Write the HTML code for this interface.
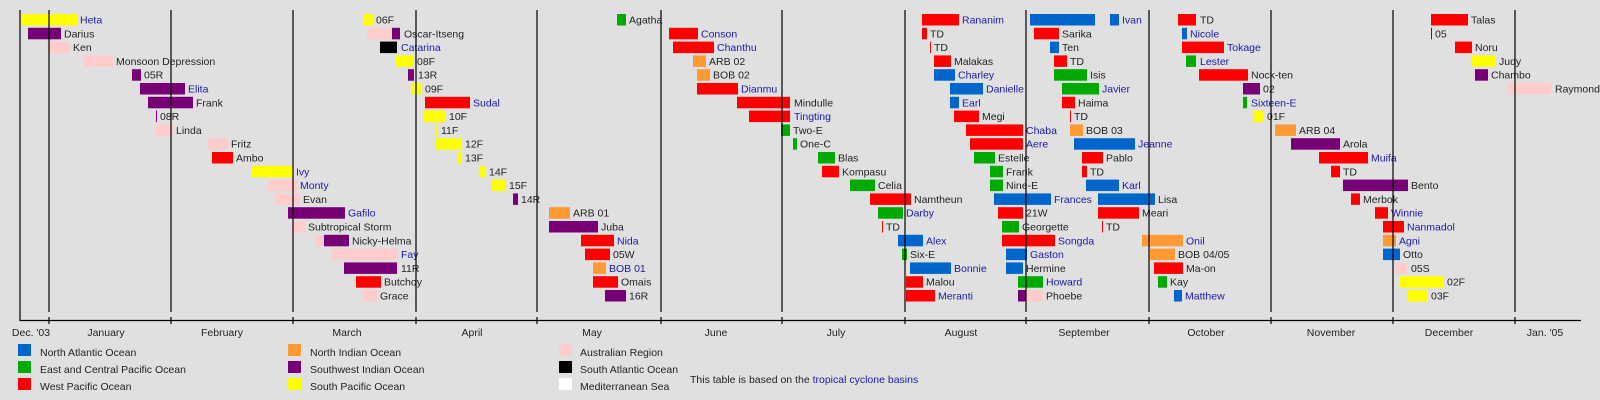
<!DOCTYPE html>
<html><head><meta charset="utf-8"><style>
body{margin:0;background:#e0e0e0}
svg{display:block}
text{font-family:"Liberation Sans",sans-serif;font-size:10.5px;fill:#222}
.b{fill:#1a1aaa}
.R{fill:#ff0000}.U{fill:#0066cc}.G{fill:#00aa00}.O{fill:#ff9933}.P{fill:#770077}.Y{fill:#ffff00}.K{fill:#ffcccc}.X{fill:#000}.W{fill:#fff}
</style></head><body>
<svg width="1600" height="400" viewBox="0 0 1600 400" xmlns="http://www.w3.org/2000/svg">
<rect width="1600" height="400" fill="#e0e0e0"/>
<g>
<!-- row0 -->
<rect class="Y" x="21" y="14" width="56" height="11.5"/><text class="b" x="80" y="23.5">Heta</text>
<rect class="Y" x="364" y="14" width="9" height="11.5"/><text x="376" y="23.5">06F</text>
<rect class="G" x="617" y="14" width="9" height="11.5"/><text x="629" y="23.5">Agatha</text>
<rect class="R" x="922" y="14" width="37" height="11.5"/><text class="b" x="962" y="23.5">Rananim</text>
<rect class="U" x="1030" y="14" width="65" height="11.5"/><rect class="U" x="1110" y="14" width="9" height="11.5"/><text class="b" x="1122" y="23.5">Ivan</text>
<rect class="R" x="1178" y="14" width="18" height="11.5"/><text x="1200" y="23.5">TD</text>
<rect class="R" x="1431" y="14" width="37" height="11.5"/><text x="1471" y="23.5">Talas</text>
<!-- row1 -->
<rect class="P" x="28" y="27.8" width="33" height="11.5"/><text x="64" y="37.3">Darius</text>
<rect class="K" x="367" y="27.8" width="25" height="11.5"/><rect class="P" x="392" y="27.8" width="8" height="11.5"/><text x="404" y="37.3">Oscar-Itseng</text>
<rect class="R" x="669" y="27.8" width="29" height="11.5"/><text class="b" x="701" y="37.3">Conson</text>
<rect class="R" x="922" y="27.8" width="5" height="11.5"/><text x="930" y="37.3">TD</text>
<rect class="R" x="1034" y="27.8" width="25" height="11.5"/><text x="1062" y="37.3">Sarika</text>
<rect class="U" x="1182" y="27.8" width="5" height="11.5"/><text class="b" x="1190" y="37.3">Nicole</text>
<rect class="P" x="1431" y="27.8" width="1" height="11.5"/><text x="1435" y="37.3">05</text>
<!-- row2 -->
<rect class="K" x="47" y="41.6" width="23" height="11.5"/><text x="73" y="51.1">Ken</text>
<rect class="X" x="380" y="41.6" width="17" height="11.5"/><text class="b" x="401" y="51.1">Catarina</text>
<rect class="R" x="673" y="41.6" width="41" height="11.5"/><text class="b" x="717" y="51.1">Chanthu</text>
<rect class="R" x="930" y="41.6" width="1" height="11.5"/><text x="934" y="51.1">TD</text>
<rect class="U" x="1050" y="41.6" width="9" height="11.5"/><text x="1062" y="51.1">Ten</text>
<rect class="R" x="1182" y="41.6" width="42" height="11.5"/><text class="b" x="1227" y="51.1">Tokage</text>
<rect class="R" x="1455" y="41.6" width="17" height="11.5"/><text x="1475" y="51.1">Noru</text>
<!-- row3 -->
<rect class="K" x="84" y="55.4" width="29" height="11.5"/><text x="116" y="64.9">Monsoon Depression</text>
<rect class="Y" x="396" y="55.4" width="17" height="11.5"/><text x="417" y="64.9">08F</text>
<rect class="O" x="693" y="55.4" width="13" height="11.5"/><text x="709" y="64.9">ARB 02</text>
<rect class="R" x="934" y="55.4" width="17" height="11.5"/><text x="954" y="64.9">Malakas</text>
<rect class="R" x="1054" y="55.4" width="13" height="11.5"/><text x="1070" y="64.9">TD</text>
<rect class="G" x="1186" y="55.4" width="10" height="11.5"/><text class="b" x="1200" y="64.9">Lester</text>
<rect class="Y" x="1471" y="55.4" width="25" height="11.5"/><text x="1499" y="64.9">Judy</text>
<!-- row4 -->
<rect class="P" x="132" y="69.2" width="9" height="11.5"/><text x="144" y="78.7">05R</text>
<rect class="P" x="408" y="69.2" width="6" height="11.5"/><text x="418" y="78.7">13R</text>
<rect class="O" x="697" y="69.2" width="13" height="11.5"/><text x="713" y="78.7">BOB 02</text>
<rect class="U" x="934" y="69.2" width="21" height="11.5"/><text class="b" x="958" y="78.7">Charley</text>
<rect class="G" x="1054" y="69.2" width="33" height="11.5"/><text x="1090" y="78.7">Isis</text>
<rect class="R" x="1199" y="69.2" width="49" height="11.5"/><text x="1251" y="78.7">Nock-ten</text>
<rect class="P" x="1475" y="69.2" width="13" height="11.5"/><text x="1491" y="78.7">Chambo</text>
<!-- row5 -->
<rect class="P" x="140" y="83" width="45" height="11.5"/><text class="b" x="188" y="92.5">Elita</text>
<rect class="Y" x="412" y="83" width="10" height="11.5"/><text x="425" y="92.5">09F</text>
<rect class="R" x="697" y="83" width="41" height="11.5"/><text class="b" x="741" y="92.5">Dianmu</text>
<rect class="U" x="950" y="83" width="33" height="11.5"/><text class="b" x="986" y="92.5">Danielle</text>
<rect class="G" x="1062" y="83" width="37" height="11.5"/><text class="b" x="1102" y="92.5">Javier</text>
<rect class="P" x="1243" y="83" width="17" height="11.5"/><text x="1263" y="92.5">02</text>
<rect class="K" x="1508" y="83" width="43" height="11.5"/><text x="1555" y="92.5">Raymond</text>
<!-- row6 -->
<rect class="P" x="148" y="96.8" width="45" height="11.5"/><text x="196" y="106.3">Frank</text>
<rect class="R" x="425" y="96.8" width="45" height="11.5"/><text class="b" x="473" y="106.3">Sudal</text>
<rect class="R" x="737" y="96.8" width="53" height="11.5"/><text x="794" y="106.3">Mindulle</text>
<rect class="U" x="950" y="96.8" width="9" height="11.5"/><text class="b" x="962" y="106.3">Earl</text>
<rect class="R" x="1062" y="96.8" width="13" height="11.5"/><text x="1078" y="106.3">Haima</text>
<rect class="G" x="1243" y="96.8" width="4" height="11.5"/><text class="b" x="1251" y="106.3">Sixteen-E</text>
<!-- row7 -->
<rect class="P" x="156" y="110.6" width="1" height="11.5"/><text x="160" y="120.1">08R</text>
<rect class="Y" x="424" y="110.6" width="22" height="11.5"/><text x="449" y="120.1">10F</text>
<rect class="R" x="749" y="110.6" width="41" height="11.5"/><text class="b" x="794" y="120.1">Tingting</text>
<rect class="R" x="954" y="110.6" width="25" height="11.5"/><text x="982" y="120.1">Megi</text>
<rect class="R" x="1070" y="110.6" width="1" height="11.5"/><text x="1074" y="120.1">TD</text>
<rect class="Y" x="1254" y="110.6" width="9" height="11.5"/><text x="1267" y="120.1">01F</text>
<!-- row8 -->
<rect class="K" x="156" y="124.4" width="17" height="11.5"/><text x="176" y="133.9">Linda</text>
<rect class="Y" x="436" y="124.4" width="2" height="11.5"/><text x="441" y="133.9">11F</text>
<rect class="G" x="781" y="124.4" width="9" height="11.5"/><text x="793" y="133.9">Two-E</text>
<rect class="R" x="966" y="124.4" width="57" height="11.5"/><text class="b" x="1026" y="133.9">Chaba</text>
<rect class="O" x="1070" y="124.4" width="13" height="11.5"/><text x="1086" y="133.9">BOB 03</text>
<rect class="O" x="1275" y="124.4" width="21" height="11.5"/><text x="1299" y="133.9">ARB 04</text>
<!-- row9 -->
<rect class="K" x="208" y="138.2" width="20" height="11.5"/><text x="231" y="147.7">Fritz</text>
<rect class="Y" x="436" y="138.2" width="26" height="11.5"/><text x="465" y="147.7">12F</text>
<rect class="G" x="793" y="138.2" width="4" height="11.5"/><text x="800" y="147.7">One-C</text>
<rect class="R" x="970" y="138.2" width="53" height="11.5"/><text class="b" x="1026" y="147.7">Aere</text>
<rect class="U" x="1074" y="138.2" width="61" height="11.5"/><text class="b" x="1138" y="147.7">Jeanne</text>
<rect class="P" x="1291" y="138.2" width="49" height="11.5"/><text x="1343" y="147.7">Arola</text>
<!-- row10 -->
<rect class="R" x="212" y="152" width="21" height="11.5"/><text x="236" y="161.5">Ambo</text>
<rect class="Y" x="457" y="152" width="5" height="11.5"/><text x="465" y="161.5">13F</text>
<rect class="G" x="818" y="152" width="17" height="11.5"/><text x="838" y="161.5">Blas</text>
<rect class="G" x="974" y="152" width="21" height="11.5"/><text x="998" y="161.5">Estelle</text>
<rect class="R" x="1082" y="152" width="21" height="11.5"/><text x="1106" y="161.5">Pablo</text>
<rect class="R" x="1319" y="152" width="49" height="11.5"/><text class="b" x="1371" y="161.5">Muifa</text>
<!-- row11 -->
<rect class="Y" x="252" y="165.8" width="41" height="11.5"/><text class="b" x="296" y="175.3">Ivy</text>
<rect class="Y" x="480" y="165.8" width="6" height="11.5"/><text x="489" y="175.3">14F</text>
<rect class="R" x="822" y="165.8" width="17" height="11.5"/><text x="842" y="175.3">Kompasu</text>
<rect class="G" x="990" y="165.8" width="13" height="11.5"/><text x="1006" y="175.3">Frank</text>
<rect class="R" x="1082" y="165.8" width="5" height="11.5"/><text x="1090" y="175.3">TD</text>
<rect class="R" x="1331" y="165.8" width="9" height="11.5"/><text x="1343" y="175.3">TD</text>
<!-- row12 -->
<rect class="K" x="268" y="179.6" width="29" height="11.5"/><text class="b" x="300" y="189.1">Monty</text>
<rect class="Y" x="492" y="179.6" width="14" height="11.5"/><text x="509" y="189.1">15F</text>
<rect class="G" x="850" y="179.6" width="25" height="11.5"/><text x="878" y="189.1">Celia</text>
<rect class="G" x="990" y="179.6" width="13" height="11.5"/><text x="1006" y="189.1">Nine-E</text>
<rect class="U" x="1086" y="179.6" width="33" height="11.5"/><text class="b" x="1122" y="189.1">Karl</text>
<rect class="P" x="1343" y="179.6" width="65" height="11.5"/><text x="1411" y="189.1">Bento</text>
<!-- row13 -->
<rect class="K" x="276" y="193.4" width="24" height="11.5"/><text x="303" y="202.9">Evan</text>
<rect class="P" x="513" y="193.4" width="5" height="11.5"/><text x="521" y="202.9">14R</text>
<rect class="R" x="870" y="193.4" width="41" height="11.5"/><text x="914" y="202.9">Namtheun</text>
<rect class="U" x="994" y="193.4" width="57" height="11.5"/><text class="b" x="1054" y="202.9">Frances</text>
<rect class="U" x="1098" y="193.4" width="57" height="11.5"/><text x="1158" y="202.9">Lisa</text>
<rect class="R" x="1351" y="193.4" width="9" height="11.5"/><text x="1363" y="202.9">Merbok</text>
<!-- row14 -->
<rect class="P" x="288" y="207.2" width="57" height="11.5"/><text class="b" x="348" y="216.7">Gafilo</text>
<rect class="O" x="549" y="207.2" width="21" height="11.5"/><text x="573" y="216.7">ARB 01</text>
<rect class="G" x="878" y="207.2" width="25" height="11.5"/><text class="b" x="906" y="216.7">Darby</text>
<rect class="R" x="998" y="207.2" width="25" height="11.5"/><text x="1026" y="216.7">21W</text>
<rect class="R" x="1098" y="207.2" width="41" height="11.5"/><text x="1142" y="216.7">Meari</text>
<rect class="R" x="1375" y="207.2" width="13" height="11.5"/><text class="b" x="1391" y="216.7">Winnie</text>
<!-- row15 -->
<rect class="K" x="292" y="221" width="13" height="11.5"/><text x="308" y="230.5">Subtropical Storm</text>
<rect class="P" x="549" y="221" width="49" height="11.5"/><text x="601" y="230.5">Juba</text>
<rect class="R" x="882" y="221" width="1" height="11.5"/><text x="886" y="230.5">TD</text>
<rect class="G" x="1002" y="221" width="17" height="11.5"/><text x="1022" y="230.5">Georgette</text>
<rect class="R" x="1102" y="221" width="1" height="11.5"/><text x="1106" y="230.5">TD</text>
<rect class="R" x="1383" y="221" width="21" height="11.5"/><text class="b" x="1407" y="230.5">Nanmadol</text>
<!-- row16 -->
<rect class="K" x="316" y="234.8" width="8" height="11.5"/><rect class="P" x="324" y="234.8" width="25" height="11.5"/><text x="352" y="244.3">Nicky-Helma</text>
<rect class="R" x="581" y="234.8" width="33" height="11.5"/><text class="b" x="617" y="244.3">Nida</text>
<rect class="U" x="898" y="234.8" width="25" height="11.5"/><text class="b" x="926" y="244.3">Alex</text>
<rect class="R" x="1002" y="234.8" width="53" height="11.5"/><text class="b" x="1058" y="244.3">Songda</text>
<rect class="O" x="1142" y="234.8" width="41" height="11.5"/><text class="b" x="1186" y="244.3">Onil</text>
<rect class="O" x="1383" y="234.8" width="13" height="11.5"/><text class="b" x="1399" y="244.3">Agni</text>
<!-- row17 -->
<rect class="K" x="332" y="248.6" width="66" height="11.5"/><text class="b" x="401" y="258.1">Fay</text>
<rect class="R" x="585" y="248.6" width="25" height="11.5"/><text x="613" y="258.1">05W</text>
<rect class="G" x="902" y="248.6" width="5" height="11.5"/><text x="910" y="258.1">Six-E</text>
<rect class="U" x="1006" y="248.6" width="21" height="11.5"/><text class="b" x="1030" y="258.1">Gaston</text>
<rect class="O" x="1150" y="248.6" width="25" height="11.5"/><text x="1178" y="258.1">BOB 04/05</text>
<rect class="U" x="1383" y="248.6" width="17" height="11.5"/><text x="1403" y="258.1">Otto</text>
<!-- row18 -->
<rect class="P" x="344" y="262.4" width="53" height="11.5"/><text x="401" y="271.9">11R</text>
<rect class="O" x="593" y="262.4" width="13" height="11.5"/><text class="b" x="609" y="271.9">BOB 01</text>
<rect class="U" x="910" y="262.4" width="41" height="11.5"/><text class="b" x="954" y="271.9">Bonnie</text>
<rect class="U" x="1006" y="262.4" width="17" height="11.5"/><text x="1026" y="271.9">Hermine</text>
<rect class="R" x="1154" y="262.4" width="29" height="11.5"/><text x="1186" y="271.9">Ma-on</text>
<rect class="K" x="1395" y="262.4" width="12" height="11.5"/><text x="1411" y="271.9">05S</text>
<!-- row19 -->
<rect class="R" x="356" y="276.2" width="25" height="11.5"/><text x="384" y="285.7">Butchoy</text>
<rect class="R" x="593" y="276.2" width="25" height="11.5"/><text x="621" y="285.7">Omais</text>
<rect class="R" x="906" y="276.2" width="17" height="11.5"/><text x="926" y="285.7">Malou</text>
<rect class="G" x="1018" y="276.2" width="25" height="11.5"/><text class="b" x="1046" y="285.7">Howard</text>
<rect class="G" x="1158" y="276.2" width="9" height="11.5"/><text x="1170" y="285.7">Kay</text>
<rect class="Y" x="1399" y="276.2" width="45" height="11.5"/><text x="1447" y="285.7">02F</text>
<!-- row20 -->
<rect class="K" x="364" y="290" width="13" height="11.5"/><text x="380" y="299.5">Grace</text>
<rect class="P" x="605" y="290" width="21" height="11.5"/><text x="629" y="299.5">16R</text>
<rect class="R" x="906" y="290" width="29" height="11.5"/><text class="b" x="938" y="299.5">Meranti</text>
<rect class="P" x="1018" y="290" width="8" height="11.5"/><rect class="K" x="1026" y="290" width="17" height="11.5"/><text x="1046" y="299.5">Phoebe</text>
<rect class="U" x="1174" y="290" width="8" height="11.5"/><text class="b" x="1185" y="299.5">Matthew</text>
<rect class="Y" x="1407" y="290" width="21" height="11.5"/><text x="1431" y="299.5">03F</text>
</g>
<g stroke="#000" stroke-width="1.2">
<line x1="20" y1="10" x2="20" y2="321"/>
<line x1="20" y1="320.5" x2="1581" y2="320.5"/>
<line x1="49" y1="10" x2="49" y2="312"/><line x1="171" y1="10" x2="171" y2="312"/><line x1="293" y1="10" x2="293" y2="312"/><line x1="416" y1="10" x2="416" y2="312"/><line x1="537" y1="10" x2="537" y2="312"/><line x1="661" y1="10" x2="661" y2="312"/><line x1="782" y1="10" x2="782" y2="312"/><line x1="905" y1="10" x2="905" y2="312"/><line x1="1026" y1="10" x2="1026" y2="312"/><line x1="1149" y1="10" x2="1149" y2="312"/><line x1="1271" y1="10" x2="1271" y2="312"/><line x1="1393" y1="10" x2="1393" y2="312"/><line x1="1515" y1="10" x2="1515" y2="312"/>
<line x1="49" y1="317" x2="49" y2="324"/><line x1="171" y1="317" x2="171" y2="324"/><line x1="293" y1="317" x2="293" y2="324"/><line x1="416" y1="317" x2="416" y2="324"/><line x1="537" y1="317" x2="537" y2="324"/><line x1="661" y1="317" x2="661" y2="324"/><line x1="782" y1="317" x2="782" y2="324"/><line x1="905" y1="317" x2="905" y2="324"/><line x1="1026" y1="317" x2="1026" y2="324"/><line x1="1149" y1="317" x2="1149" y2="324"/><line x1="1271" y1="317" x2="1271" y2="324"/><line x1="1393" y1="317" x2="1393" y2="324"/><line x1="1515" y1="317" x2="1515" y2="324"/>
</g>
<g text-anchor="middle">
<text x="31" y="336">Dec. '03</text><text x="106" y="336">January</text><text x="222" y="336">February</text><text x="347" y="336">March</text><text x="472" y="336">April</text><text x="592" y="336">May</text><text x="716" y="336">June</text><text x="836" y="336">July</text><text x="961" y="336">August</text><text x="1084" y="336">September</text><text x="1206" y="336">October</text><text x="1331" y="336">November</text><text x="1449" y="336">December</text><text x="1545" y="336">Jan. '05</text>
</g>
<g>
<rect class="U" x="18" y="344" width="13" height="12"/><text x="40" y="356">North Atlantic Ocean</text>
<rect class="G" x="18" y="361" width="13" height="12"/><text x="40" y="373">East and Central Pacific Ocean</text>
<rect class="R" x="18" y="378" width="13" height="12"/><text x="40" y="390">West Pacific Ocean</text>
<rect class="O" x="288" y="344" width="13" height="12"/><text x="310" y="356">North Indian Ocean</text>
<rect class="P" x="288" y="361" width="13" height="12"/><text x="310" y="373">Southwest Indian Ocean</text>
<rect class="Y" x="288" y="378" width="13" height="12"/><text x="310" y="390">South Pacific Ocean</text>
<rect class="K" x="559" y="344" width="13" height="12"/><text x="580" y="356">Australian Region</text>
<rect class="X" x="559" y="361" width="13" height="12"/><text x="580" y="373">South Atlantic Ocean</text>
<rect class="W" x="559" y="378" width="13" height="12"/><text x="580" y="390">Mediterranean Sea</text>
<text x="690" y="383">This table is based on the <tspan class="b">tropical cyclone basins</tspan></text>
</g>
</svg>
</body></html>
